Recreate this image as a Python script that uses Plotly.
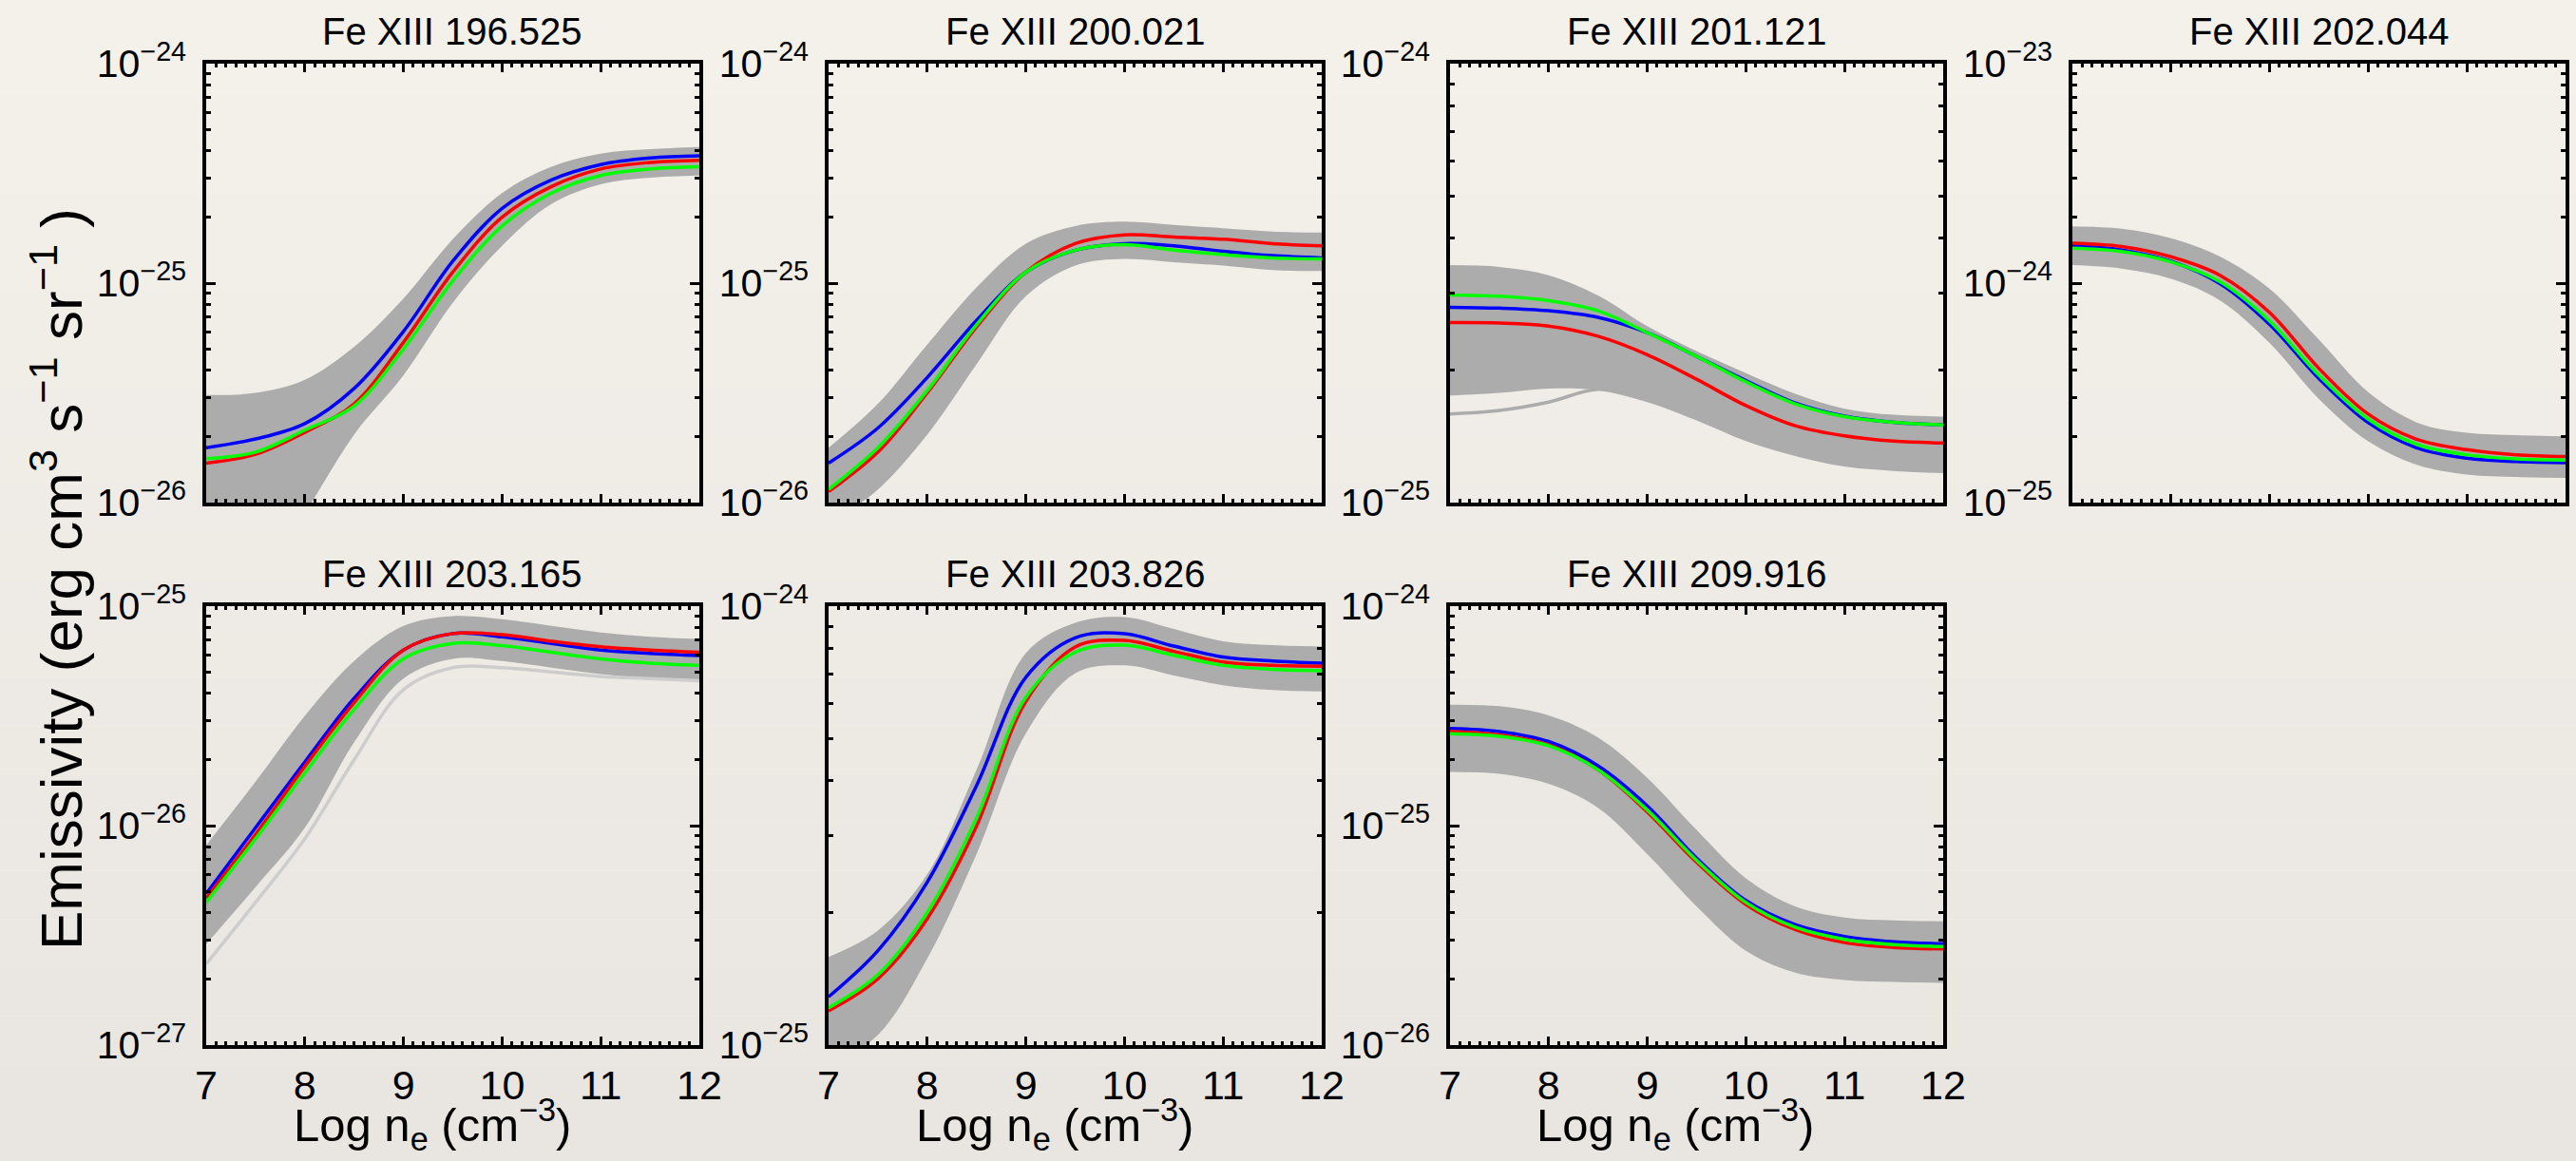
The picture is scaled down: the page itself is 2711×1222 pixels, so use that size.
import numpy as np
import plotly.graph_objects as go

# ---------------- data (log10 of emissivity) ----------------
LOG_NE = [7.0, 7.5, 8.0, 8.5, 9.0, 9.5, 10.0, 10.5, 11.0, 11.5, 12.0]
X_TICKS = [7, 8, 9, 10, 11, 12]

TITLES = ["Fe XIII 196.525", "Fe XIII 200.021", "Fe XIII 201.121", "Fe XIII 202.044",
          "Fe XIII 203.165", "Fe XIII 203.826", "Fe XIII 209.916"]
Y_DECADES = [(-26, -24), (-26, -24), (-25, -24), (-25, -23), (-27, -25), (-25, -24), (-26, -24)]

# Fe XIII 196.525
P1_UPPER = [-25.51, -25.50, -25.44, -25.29, -25.07, -24.80, -24.59, -24.47, -24.41, -24.39, -24.38]
P1_LOWER = [-26.80, -26.40, -26.05, -25.69, -25.42, -25.09, -24.83, -24.64, -24.55, -24.52, -24.51]
P1_BLUE = [-25.75, -25.71, -25.64, -25.48, -25.22, -24.90, -24.66, -24.53, -24.46, -24.43, -24.42]
P1_RED = [-25.82, -25.78, -25.68, -25.55, -25.27, -24.95, -24.70, -24.56, -24.48, -24.45, -24.44]
P1_GREEN = [-25.80, -25.77, -25.67, -25.56, -25.30, -24.99, -24.74, -24.59, -24.51, -24.48, -24.47]

# Fe XIII 200.021
P2_UPPER = [-25.75, -25.55, -25.28, -25.02, -24.82, -24.74, -24.72, -24.735, -24.75, -24.765, -24.77]
P2_LOWER = [-26.10, -25.94, -25.69, -25.37, -25.06, -24.92, -24.89, -24.905, -24.92, -24.94, -24.945]
P2_BLUE = [-25.82, -25.66, -25.43, -25.17, -24.95, -24.85, -24.82, -24.83, -24.855, -24.875, -24.885]
P2_RED = [-25.95, -25.77, -25.50, -25.20, -24.95, -24.82, -24.78, -24.79, -24.80, -24.82, -24.83]
P2_GREEN = [-25.94, -25.75, -25.49, -25.19, -24.95, -24.85, -24.825, -24.85, -24.87, -24.885, -24.89]

# Fe XIII 201.121
P3_UPPER = [-24.459, -24.463, -24.482, -24.528, -24.598, -24.655, -24.705, -24.752, -24.786, -24.800, -24.804]
P3_LOWER = [-24.756, -24.750, -24.740, -24.744, -24.771, -24.813, -24.860, -24.894, -24.918, -24.928, -24.933]
P3_OUTLIER = [-24.798, -24.790, -24.771, -24.742, -24.760, -24.805, -24.850, -24.885, -24.910, -24.920, -24.925]
P3_BLUE = [-24.555, -24.557, -24.563, -24.578, -24.613, -24.667, -24.722, -24.773, -24.803, -24.817, -24.823]
P3_RED = [-24.590, -24.591, -24.598, -24.621, -24.663, -24.719, -24.779, -24.825, -24.848, -24.860, -24.864]
P3_GREEN = [-24.527, -24.530, -24.540, -24.563, -24.613, -24.667, -24.725, -24.775, -24.804, -24.817, -24.823]

# Fe XIII 202.044
P4_UPPER = [-23.741, -23.752, -23.795, -23.880, -24.026, -24.258, -24.497, -24.636, -24.682, -24.693, -24.698]
P4_LOWER = [-23.918, -23.934, -23.980, -24.080, -24.273, -24.528, -24.721, -24.829, -24.872, -24.883, -24.887]
P4_BLUE = [-23.829, -23.849, -23.900, -24.003, -24.188, -24.435, -24.636, -24.752, -24.798, -24.813, -24.818]
P4_RED = [-23.818, -23.833, -23.880, -23.965, -24.134, -24.389, -24.597, -24.713, -24.759, -24.782, -24.790]
P4_GREEN = [-23.841, -23.856, -23.903, -23.995, -24.173, -24.420, -24.620, -24.736, -24.782, -24.801, -24.806]

# Fe XIII 203.165
P5_UPPER = [-26.09, -25.80, -25.50, -25.25, -25.09, -25.045, -25.06, -25.09, -25.12, -25.14, -25.15]
P5_LOWER = [-26.54, -26.28, -26.01, -25.62, -25.33, -25.24, -25.25, -25.28, -25.31, -25.33, -25.34]
P5_OUTLIER = [-26.63, -26.35, -26.06, -25.70, -25.38, -25.28, -25.28, -25.30, -25.32, -25.33, -25.34]
P5_BLUE = [-26.31, -26.01, -25.71, -25.42, -25.20, -25.125, -25.14, -25.17, -25.20, -25.215, -25.225]
P5_RED = [-26.33, -26.04, -25.73, -25.44, -25.20, -25.125, -25.13, -25.16, -25.185, -25.20, -25.21]
P5_GREEN = [-26.35, -26.06, -25.76, -25.47, -25.24, -25.17, -25.18, -25.21, -25.24, -25.26, -25.27]

# Fe XIII 203.826
P6_UPPER = [-24.799, -24.739, -24.611, -24.373, -24.107, -24.038, -24.025, -24.052, -24.080, -24.089, -24.092]
P6_LOWER = [-25.050, -24.977, -24.803, -24.565, -24.290, -24.153, -24.135, -24.158, -24.180, -24.191, -24.194]
P6_BLUE = [-24.890, -24.785, -24.629, -24.409, -24.162, -24.072, -24.063, -24.091, -24.116, -24.125, -24.130]
P6_RED = [-24.922, -24.849, -24.712, -24.501, -24.217, -24.093, -24.078, -24.103, -24.127, -24.135, -24.137]
P6_GREEN = [-24.915, -24.840, -24.698, -24.483, -24.208, -24.105, -24.089, -24.112, -24.135, -24.144, -24.147]

# Fe XIII 209.916
P7_UPPER = [-24.449, -24.456, -24.498, -24.599, -24.782, -25.020, -25.240, -25.368, -25.419, -25.432, -25.436]
P7_LOWER = [-24.755, -24.764, -24.810, -24.919, -25.130, -25.368, -25.570, -25.670, -25.703, -25.712, -25.716]
P7_BLUE = [-24.557, -24.571, -24.617, -24.727, -24.910, -25.148, -25.341, -25.451, -25.505, -25.529, -25.538]
P7_RED = [-24.571, -24.586, -24.632, -24.745, -24.938, -25.167, -25.359, -25.474, -25.533, -25.555, -25.562]
P7_GREEN = [-24.581, -24.593, -24.636, -24.745, -24.929, -25.158, -25.350, -25.463, -25.518, -25.542, -25.551]

PANELS = [
    dict(upper=P1_UPPER, lower=P1_LOWER, blue=P1_BLUE, red=P1_RED, green=P1_GREEN),
    dict(upper=P2_UPPER, lower=P2_LOWER, blue=P2_BLUE, red=P2_RED, green=P2_GREEN),
    dict(upper=P3_UPPER, lower=P3_LOWER, blue=P3_BLUE, red=P3_RED, green=P3_GREEN,
         outlier=P3_OUTLIER, outlier_color="#acacac"),
    dict(upper=P4_UPPER, lower=P4_LOWER, blue=P4_BLUE, red=P4_RED, green=P4_GREEN),
    dict(upper=P5_UPPER, lower=P5_LOWER, blue=P5_BLUE, red=P5_RED, green=P5_GREEN,
         outlier=P5_OUTLIER, outlier_color="#cdcdcd"),
    dict(upper=P6_UPPER, lower=P6_LOWER, blue=P6_BLUE, red=P6_RED, green=P6_GREEN),
    dict(upper=P7_UPPER, lower=P7_LOWER, blue=P7_BLUE, red=P7_RED, green=P7_GREEN),
]

# ---------------- layout geometry (pixels) ----------------
W, H = 2711, 1222
COL_X0 = [217, 872, 1526, 2181]
PANEL_W = 519
ROW_Y0 = [67, 638]
PANEL_H = 462

BG_TOP = (244, 241, 235)
BG_BOTTOM = (233, 230, 225)
BAND = "#acacac"
FONT = "Liberation Sans, Arial, Helvetica, sans-serif"

fig = go.Figure()
layout = dict(
    width=W, height=H, margin=dict(l=0, r=0, t=0, b=0, pad=0, autoexpand=False),
    paper_bgcolor="rgb(%d,%d,%d)" % BG_TOP, plot_bgcolor="rgba(0,0,0,0)", showlegend=False,
    font=dict(family=FONT, color="black"),
)

# subtle paper-like vertical shading of the background
shapes = []
NSTRIP = 24
for k in range(NSTRIP):
    t = k / (NSTRIP - 1)
    col = tuple(int(round(a + (b - a) * t)) for a, b in zip(BG_TOP, BG_BOTTOM))
    shapes.append(dict(type="rect", xref="paper", yref="paper", x0=0, x1=1,
                       y0=1 - (k + 1) / NSTRIP, y1=1 - k / NSTRIP,
                       fillcolor="rgb(%d,%d,%d)" % col, line=dict(width=0), layer="below"))
layout["shapes"] = shapes
annotations = []

def sup_label(e):
    return "10<sup>\u2212%d</sup>" % (-e)

x = np.array(LOG_NE)
for i, p in enumerate(PANELS):
    r, c = divmod(i, 4)
    n = i + 1
    xa, ya = ("x%d" % n if n > 1 else "x"), ("y%d" % n if n > 1 else "y")
    fig.add_trace(go.Scatter(x=x, y=10 ** np.array(p["upper"]), mode="lines",
                             line=dict(width=0, color=BAND, shape="spline"),
                             xaxis=xa, yaxis=ya, hoverinfo="skip"))
    fig.add_trace(go.Scatter(x=x, y=10 ** np.array(p["lower"]), mode="lines",
                             line=dict(width=0, color=BAND, shape="spline"),
                             fill="tonexty", fillcolor=BAND,
                             xaxis=xa, yaxis=ya, hoverinfo="skip"))
    if "outlier" in p:
        fig.add_trace(go.Scatter(x=x, y=10 ** np.array(p["outlier"]), mode="lines",
                                 line=dict(width=3.5, color=p["outlier_color"], shape="spline"),
                                 xaxis=xa, yaxis=ya, hoverinfo="skip"))
    for key, col in (("blue", "#0000ff"), ("red", "#ff0000"), ("green", "#00ff00")):
        fig.add_trace(go.Scatter(x=x, y=10 ** np.array(p[key]), mode="lines",
                                 line=dict(width=3.5, color=col, shape="spline"),
                                 xaxis=xa, yaxis=ya, hoverinfo="skip"))

    x0 = COL_X0[c]
    y0 = ROW_Y0[r]
    dx = [x0 / W, (x0 + PANEL_W) / W]
    dy = [1 - (y0 + PANEL_H) / H, 1 - y0 / H]
    lo, hi = Y_DECADES[i]
    show_x = (r == 1)
    layout["xaxis" if n == 1 else "xaxis%d" % n] = dict(
        domain=dx, anchor=ya, range=[7, 12], showgrid=False, zeroline=False, automargin=False,
        showline=True, linecolor="black", linewidth=3.5, mirror="ticks",
        ticks="inside", ticklen=9, tickwidth=3, tickcolor="black",
        tickmode="array", tickvals=X_TICKS, ticktext=[str(t) for t in X_TICKS],
        showticklabels=show_x, tickfont=dict(size=43, family=FONT), ticklabelstandoff=2,
        minor=dict(ticks="inside", ticklen=4, tickwidth=2.5, tickcolor="black",
                   dtick=0.1, tick0=7, showgrid=False),
    )
    decs = list(range(lo, hi + 1))
    layout["yaxis" if n == 1 else "yaxis%d" % n] = dict(
        domain=dy, anchor=xa, type="log", range=[lo, hi], showgrid=False, zeroline=False,
        automargin=False,
        showline=True, linecolor="black", linewidth=3.5, mirror="ticks",
        ticks="inside", ticklen=10, tickwidth=3, tickcolor="black",
        tickmode="array", tickvals=[10.0 ** d for d in decs], ticktext=[sup_label(d) for d in decs],
        tickfont=dict(size=41, family=FONT), ticklabelstandoff=9,
        minor=dict(ticks="inside", ticklen=5, tickwidth=2.5, tickcolor="black",
                   dtick="D1", showgrid=False),
    )
    annotations.append(dict(text=TITLES[i], x=(x0 + PANEL_W / 2) / W, y=1 - (y0 - 34) / H,
                            xref="paper", yref="paper", xanchor="center", yanchor="middle",
                            showarrow=False, font=dict(size=40, family=FONT, color="black")))
    if show_x:
        annotations.append(dict(text="Log n<sub>e</sub> (cm<sup>\u22123</sup>)",
                                x=(x0 + PANEL_W / 2 - 22) / W, y=1 - 1183 / H,
                                xref="paper", yref="paper", xanchor="center", yanchor="middle",
                                showarrow=False, font=dict(size=49, family=FONT, color="black")))

annotations.append(dict(text="Emissivity (erg cm<sup>3</sup> s<sup>\u22121</sup> sr<sup>\u22121</sup> )",
                        x=60 / W, y=1 - 610 / H, xref="paper", yref="paper",
                        xanchor="center", yanchor="middle", textangle=-90, showarrow=False,
                        font=dict(size=62, family=FONT, color="black")))
layout["annotations"] = annotations
fig.update_layout(**layout)

POST = """
document.documentElement.style.overflow='hidden';
document.body.style.margin='0';
document.body.style.padding='0';
document.body.style.overflow='hidden';
document.body.style.background='rgb(244,241,235)';
"""
fig.write_html("out.html", config={"displayModeBar": False}, post_script=POST)
